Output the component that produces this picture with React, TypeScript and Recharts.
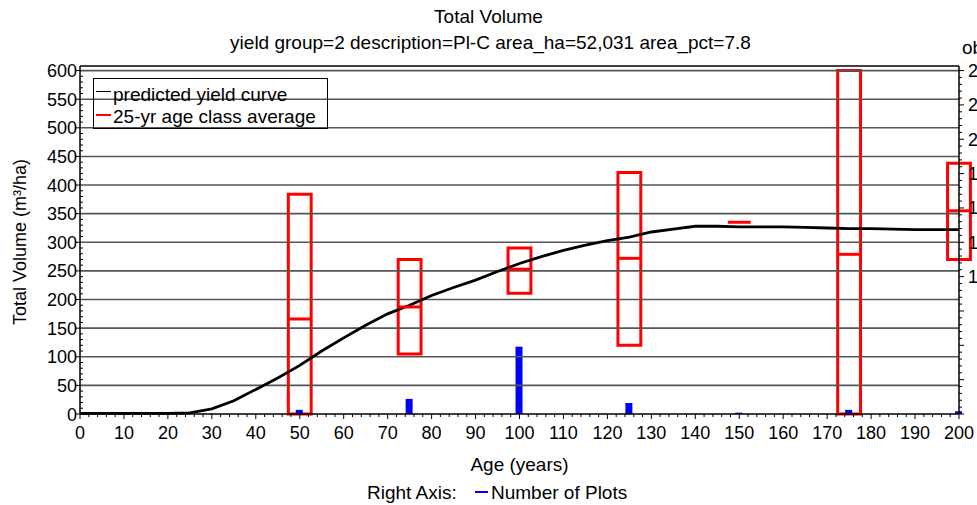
import React from 'react';
import {
  ComposedChart,
  Line,
  Bar,
  XAxis,
  YAxis,
  ReferenceArea,
  ReferenceLine,
} from 'recharts';

// predicted yield curve (m3/ha by age)
const curveAges = [0, 5, 10, 15, 20, 25, 30, 35, 40, 45, 50, 55, 60, 65, 70, 75, 80, 85, 90, 95, 100,
  105, 110, 115, 120, 125, 130, 135, 140, 145, 150, 155, 160, 165, 170, 175, 180, 185, 190, 195, 200];
const curveVolume = [1, 1, 1, 1, 1, 2, 9, 23, 43, 63, 85, 110, 133, 155, 175, 190, 207, 221, 234, 249, 263,
  275, 286, 295, 303, 309, 318, 323, 328, 328, 327, 327, 327, 326, 325, 324, 324, 323, 322, 322, 322];

// 25-yr age class averages
const classAges = [50, 75, 100, 125, 150, 175, 200];
const classHigh = [384, 270, 290, 422, 335, 600, 438];
const classMean = [166, 187, 253, 272, 335, 279, 355];
const classLow = [0, 105, 211, 120, 335, 0, 270];

// number of plots (right axis)
const plotCount = [3, 11, 49, 8, 1, 3, 2];

const xTicks = Array.from({ length: 101 }, (_, i) => i * 2);
const leftTicks = Array.from({ length: 61 }, (_, i) => i * 10);
const rightTicks = Array.from({ length: 51 }, (_, i) => i * 5);
const gridValues = Array.from({ length: 12 }, (_, i) => (i + 1) * 50);

const LEFT_MAX = 608;
const RIGHT_MAX = (LEFT_MAX * 250) / 600;
const HALF = 2.6;
const FONT = '"Liberation Sans", Arial, sans-serif';

const chartData = curveAges.map((age, i) => {
  const k = classAges.indexOf(age);
  return { age, volume: curveVolume[i], plots: k >= 0 ? plotCount[k] : undefined };
});

const boxes = classAges.map((age, i) => ({ age, high: classHigh[i], mean: classMean[i], low: classLow[i] }));

const XTick = ({ x, y, payload }: any) => {
  const v = payload.value;
  const major = v % 10 === 0;
  return (
    <g>
      <line x1={x} x2={x} y1={y} y2={y + (major ? 5 : 3)} stroke="#000" strokeWidth={1} />
      {major && (
        <text x={x} y={y + 25} textAnchor="middle" fontSize={18} fontFamily={FONT} fill="#000">
          {v}
        </text>
      )}
    </g>
  );
};

const LeftTick = ({ x, y, payload }: any) => {
  const v = payload.value;
  const major = v % 50 === 0;
  return (
    <g>
      {major ? (
        <line x1={x - 4} x2={x} y1={y} y2={y} stroke="#000" />
      ) : (
        <line x1={x} x2={x + 3} y1={y} y2={y} stroke="#000" />
      )}
      {major && (
        <text x={x - 3} y={y + 6.5} textAnchor="end" fontSize={18} fontFamily={FONT} fill="#000">
          {v}
        </text>
      )}
    </g>
  );
};

const RightTick = ({ x, y, payload }: any) => {
  const v = payload.value;
  const major = v % 25 === 0;
  return (
    <g>
      <line x1={x} x2={x + (major ? 5 : 3)} y1={y} y2={y} stroke="#000" />
      {major && v >= 100 && (
        <text x={x + 9} y={y + 6.5} textAnchor="start" fontSize={18} fontFamily={FONT} fill="#000">
          {v}
        </text>
      )}
    </g>
  );
};

const txt: React.CSSProperties = { position: 'absolute', fontFamily: FONT, color: '#000', whiteSpace: 'nowrap', lineHeight: 1 };

export default function App() {
  return (
    <div style={{ position: 'absolute', left: 0, top: 0, width: 977, height: 505, overflow: 'hidden', background: '#fff' }}>
      <div style={{ ...txt, left: 0, width: 977, top: 7, textAlign: 'center', fontSize: 19 }}>Total Volume</div>
      <div style={{ ...txt, left: 2, width: 977, top: 33, textAlign: 'center', fontSize: 19 }}>
        yield group=2 description=Pl-C area_ha=52,031 area_pct=7.8
      </div>
      <div style={{ ...txt, left: 962, top: 38, fontSize: 19 }}>obs</div>

      <ComposedChart
        width={977}
        height={505}
        data={chartData}
        margin={{ top: 66, right: 0, bottom: 31, left: 0 }}
        style={{ position: 'absolute', left: 0, top: 0 }}
      >
        <XAxis
          dataKey="age"
          type="number"
          domain={[0, 200]}
          ticks={xTicks}
          interval={0}
          tick={<XTick />}
          tickLine={false}
          tickSize={0}
          tickMargin={0}
          height={60}
          axisLine={{ stroke: '#000', strokeWidth: 1.5 }}
        />
        <YAxis
          yAxisId="left"
          type="number"
          domain={[0, LEFT_MAX]}
          ticks={leftTicks}
          interval={0}
          tick={<LeftTick />}
          tickLine={false}
          tickSize={0}
          tickMargin={0}
          width={80}
          axisLine={{ stroke: '#000', strokeWidth: 1.5 }}
        />
        <YAxis
          yAxisId="right"
          orientation="right"
          type="number"
          domain={[0, RIGHT_MAX]}
          ticks={rightTicks}
          interval={0}
          tick={<RightTick />}
          tickLine={false}
          tickSize={0}
          tickMargin={0}
          width={18}
          axisLine={{ stroke: '#000', strokeWidth: 1.5 }}
        />

        {gridValues.map((v) => (
          <ReferenceLine key={`g${v}`} yAxisId="left" y={v} stroke="#555" strokeWidth={1.6} />
        ))}
        <ReferenceLine yAxisId="left" y={LEFT_MAX} stroke="#000" strokeWidth={1.5} />

        <Bar
          yAxisId="right"
          dataKey="plots"
          fill="#0000ff"
          barSize={7}
          isAnimationActive={false}
        />
        <Line
          yAxisId="left"
          dataKey="volume"
          type="linear"
          stroke="#000"
          strokeWidth={2.8}
          dot={false}
          isAnimationActive={false}
        />

        {boxes.map((b) =>
          b.high > b.low ? (
            <ReferenceArea
              key={`a${b.age}`}
              yAxisId="left"
              x1={b.age - HALF}
              x2={b.age + HALF}
              y1={b.low}
              y2={b.high}
              fill="none"
              fillOpacity={0}
              stroke="#ff0000"
              strokeWidth={3}
              strokeOpacity={1}
              ifOverflow="visible"
            />
          ) : null
        )}
        {boxes.map((b) => (
          <ReferenceLine
            key={`m${b.age}`}
            yAxisId="left"
            segment={[
              { x: b.age - HALF, y: b.mean },
              { x: b.age + HALF, y: b.mean },
            ]}
            stroke="#ff0000"
            strokeWidth={3}
            ifOverflow="visible"
          />
        ))}
      </ComposedChart>

      {/* legend inside plot */}
      <div style={{ position: 'absolute', left: 93, top: 78, width: 233, height: 49, border: '1px solid #000' }}>
        <div style={{ position: 'absolute', left: 2, top: 12, width: 15, height: 1, background: '#000' }} />
        <div style={{ ...txt, left: 19, top: 6, fontSize: 19 }}>predicted yield curve</div>
        <div style={{ position: 'absolute', left: 2, top: 35, width: 15, height: 1.5, background: '#ff0000' }} />
        <div style={{ ...txt, left: 19, top: 28, fontSize: 19 }}>25-yr age class average</div>
      </div>

      <div
        style={{
          ...txt,
          left: 20,
          top: 242,
          fontSize: 18,
          transform: 'translate(-50%, -50%) rotate(-90deg)',
        }}
      >
        Total Volume (m³/ha)
      </div>
      <div style={{ ...txt, left: 80, width: 879, top: 455, textAlign: 'center', fontSize: 19 }}>Age (years)</div>

      <div style={{ ...txt, left: 367, top: 483, fontSize: 19 }}>Right Axis:</div>
      <div style={{ position: 'absolute', left: 475, top: 491, width: 13, height: 1.5, background: '#0000ff' }} />
      <div style={{ ...txt, left: 491, top: 483, fontSize: 19 }}>Number of Plots</div>
    </div>
  );
}
